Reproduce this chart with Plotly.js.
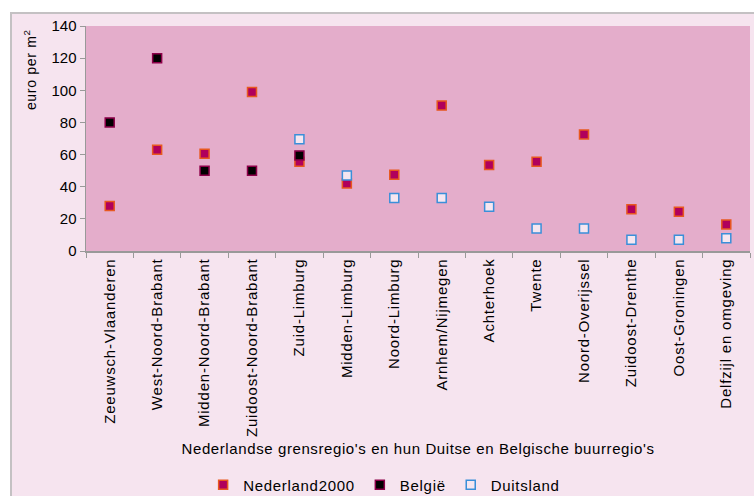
<!DOCTYPE html>
<html>
<head>
<meta charset="utf-8">
<script src="https://cdn.plot.ly/plotly-3.0.1.min.js"></script>
<style>
  html, body { margin: 0; padding: 0; background: #ffffff; overflow: hidden; }
  #frame { position: absolute; left: 10px; top: 12px; width: 744px; height: 484px;
           background: #F6E4EF; border-left: 2px solid #C4C1C3; border-top: 2px solid #C4C1C3; box-sizing: border-box; }
  #chart { position: absolute; left: 0; top: 0; width: 754px; height: 496px; }
  g.xtick text { letter-spacing: 0.8px; }
  text.xtitle { letter-spacing: 0.6px; }
  text.legendtext { letter-spacing: 0.7px; }
  text.annotation-text { letter-spacing: 0.7px; }
</style>
</head>
<body>
<div id="frame"></div>
<div id="chart"></div>
<script>
const regions = ["Zeeuwsch-Vlaanderen", "West-Noord-Brabant", "Midden-Noord-Brabant", "Zuidoost-Noord-Brabant",
  "Zuid-Limburg", "Midden-Limburg", "Noord-Limburg", "Arnhem/Nijmegen", "Achterhoek", "Twente",
  "Noord-Overijssel", "Zuidoost-Drenthe", "Oost-Groningen", "Delfzijl en omgeving"];
const nederland2000 = [28, 63, 60.5, 99, 55.5, 42, 47.5, 90.5, 53.5, 55.5, 72.5, 26, 24.5, 16.5];
const belgie = [80, 120, 50, 50, 59.5, null, null, null, null, null, null, null, null, null];
const duitsland = [null, null, null, null, 69.5, 47, 33, 33, 27.5, 14, 14, 7, 7, 8];
const yTicks = [0, 20, 40, 60, 80, 100, 120, 140];

const font = "Liberation Sans, Arial, sans-serif";
const traces = [
  { name: "Nederland2000", x: regions, y: nederland2000, type: "scatter", mode: "markers",
    marker: { symbol: "square", size: 9, color: "#B0005C", line: { color: "#E8581F", width: 1.5 } } },
  { name: "België", x: regions, y: belgie, type: "scatter", mode: "markers",
    marker: { symbol: "square", size: 9, color: "#000000", line: { color: "#8C0049", width: 1.5 } } },
  { name: "Duitsland", x: regions, y: duitsland, type: "scatter", mode: "markers",
    marker: { symbol: "square", size: 9, color: "#F5E6F0", line: { color: "#3A8FD9", width: 1.5 } } }
];
const layout = {
  width: 754, height: 496,
  margin: { l: 86, r: 4, t: 26, b: 245 },
  paper_bgcolor: "rgba(0,0,0,0)",
  plot_bgcolor: "#E4ADCB",
  font: { family: font, color: "#000000", size: 13 },
  showlegend: true,
  legend: { orientation: "h", x: 0.449, xanchor: "center", yref: "container", y: 0.022, yanchor: "middle",
            font: { family: font, size: 15 }, bgcolor: "rgba(0,0,0,0)", tracegroupgap: 0 },
  xaxis: {
    type: "category", range: [-0.5, 13.5], tickson: "boundaries", ticks: "outside", ticklen: 5,
    tickcolor: "#999999", showline: true, linecolor: "#999999", linewidth: 1.5, showgrid: false,
    tickangle: -90, tickfont: { family: font, size: 15 }, automargin: false,
    title: { text: "Nederlandse grensregio's en hun Duitse en Belgische buurregio's",
             font: { family: font, size: 15 }, standoff: 7 }
  },
  yaxis: {
    range: [0, 140], tickvals: yTicks, ticks: "outside", ticklen: 5, tickcolor: "#999999",
    showline: true, linecolor: "#999999", linewidth: 1.5, showgrid: false, zeroline: false,
    tickfont: { family: font, size: 15 }, automargin: false
  },
  annotations: [{
    text: "euro per m<sup>2</sup>", xref: "paper", yref: "paper", x: -0.0843, y: 0.804,
    xanchor: "center", yanchor: "middle", textangle: -90, showarrow: false,
    font: { family: font, size: 14 }
  }]
};
Plotly.newPlot("chart", traces, layout, { displayModeBar: false, staticPlot: true });
</script>
</body>
</html>
